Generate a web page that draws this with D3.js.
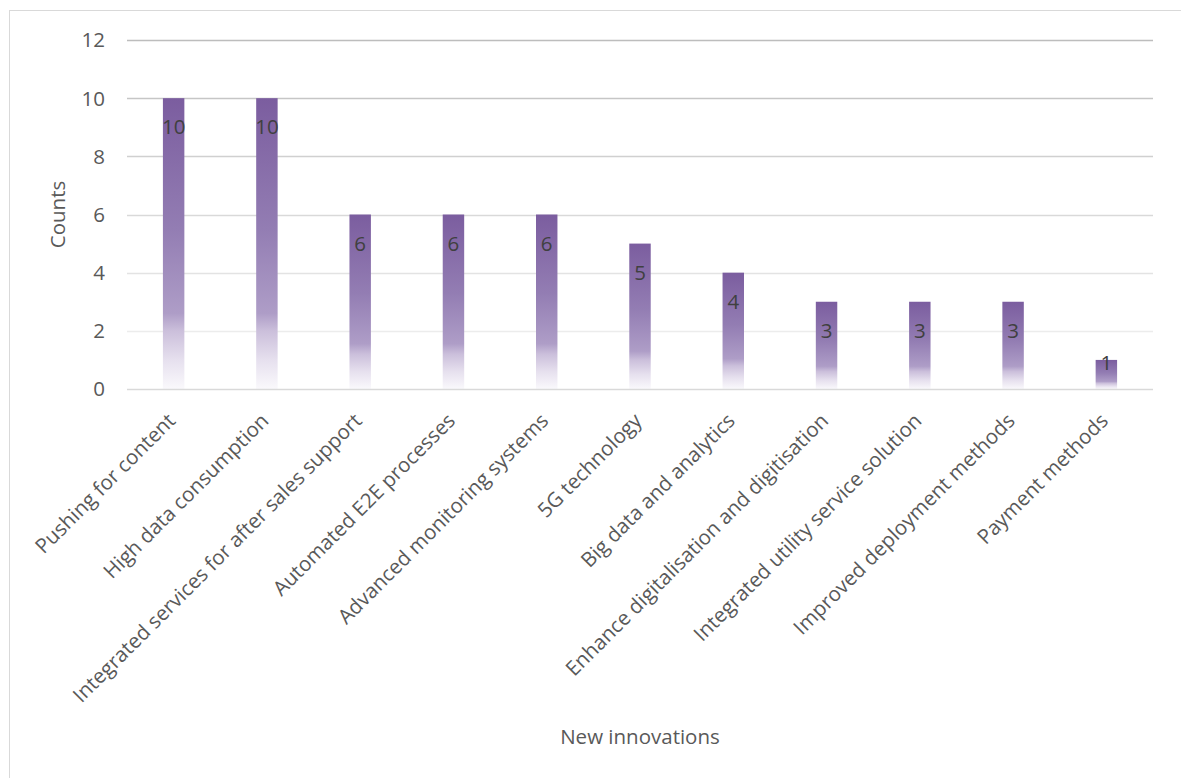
<!DOCTYPE html>
<html>
<head>
<meta charset="utf-8">
<script src="https://cdn.jsdelivr.net/npm/d3@7"></script>
<style>
    body { margin: 0; background: #fff; }
    svg { display: block; font-family: "Open Sans", sans-serif; }
</style>
</head>
<body>
<svg id="canvas" width="1181" height="778"></svg>
<script>
const innovations = [
    "Pushing for content",
    "High data consumption",
    "Integrated services for after sales support",
    "Automated E2E processes",
    "Advanced monitoring systems",
    "5G technology",
    "Big data and analytics",
    "Enhance digitalisation and digitisation",
    "Integrated utility service solution",
    "Improved deployment methods",
    "Payment methods"
];
const counts = [10, 10, 6, 6, 6, 5, 4, 3, 3, 3, 1];
const yTicks = [0, 2, 4, 6, 8, 10, 12];

const plot = {left: 127, right: 1153, top: 40, bottom: 389};
const fontSize = 20.5;
const textColor = "#595959";

const canvas = d3.select("svg");

// outer chart frame
canvas.append("rect")
    .attr("x", 9.5)
    .attr("y", 10.5)
    .attr("width", 1180)
    .attr("height", 780)
    .attr("fill", "none")
    .attr("stroke", "#d9d9d9");

const x = d3.scaleBand()
    .domain(innovations)
    .range([plot.left, plot.right])
    .paddingInner(0.77)
    .paddingOuter(0.385);

const y = d3.scaleLinear()
    .domain([0, 12])
    .range([plot.bottom, plot.top]);

// bar fill fades from purple at the top to white at the base
const grad = canvas.append("defs").append("linearGradient")
    .attr("id", "barFill")
    .attr("x1", 0).attr("y1", 0)
    .attr("x2", 0).attr("y2", 1);
[
    [0, "#7b5d9f"],
    [0.45, "#937db3"],
    [0.74, "#ae9dc7"],
    [0.8, "#cbbfdb"],
    [0.9, "#e6e0ee"],
    [1, "#faf9fc"]
].forEach(([o, c]) => grad.append("stop").attr("offset", o).attr("stop-color", c));

// gridlines get lighter towards the baseline
const gridColor = d3.scaleLinear().domain([2, 12]).range(["#ececec", "#bdbdbd"]);
canvas.append("g")
    .selectAll("line")
    .data(yTicks.filter(t => t > 0))
    .join("line")
    .attr("x1", plot.left)
    .attr("x2", plot.right)
    .attr("y1", d => Math.round(y(d)) + 0.5)
    .attr("y2", d => Math.round(y(d)) + 0.5)
    .attr("stroke", d => gridColor(d))
    .attr("stroke-width", 1.3);

// y axis labels
const yAxis = canvas.append("g")
    .attr("transform", `translate(${plot.left - 22},0)`)
    .call(d3.axisLeft(y).tickValues(yTicks).tickSize(0).tickPadding(0));
yAxis.select(".domain").remove();
yAxis.selectAll("text")
    .attr("font-family", "Open Sans")
    .attr("font-size", fontSize)
    .attr("fill", textColor)
    .attr("dy", "0.34em");

// bars
canvas.append("g")
    .selectAll("rect")
    .data(counts)
    .join("rect")
    .attr("x", (d, i) => x(innovations[i]))
    .attr("y", d => y(d))
    .attr("width", x.bandwidth())
    .attr("height", d => y(0) - y(d))
    .attr("fill", "url(#barFill)");

// baseline
canvas.append("line")
    .attr("x1", plot.left)
    .attr("x2", plot.right)
    .attr("y1", plot.bottom + 0.5)
    .attr("y2", plot.bottom + 0.5)
    .attr("stroke", "#d9d9d9")
    .attr("stroke-width", 1.3);

// value labels at the inside end of each bar
canvas.append("g")
    .selectAll("text")
    .data(counts)
    .join("text")
    .attr("x", (d, i) => x(innovations[i]) + x.bandwidth() / 2)
    .attr("y", d => {
        const h = y(0) - y(d);
        return h > 50 ? y(d) + 36 : y(d) + 10;
    })
    .attr("text-anchor", "middle")
    .attr("font-size", fontSize)
    .attr("fill", "#404040")
    .text(d => d);

// category labels, rotated
canvas.append("g")
    .selectAll("text")
    .data(innovations)
    .join("text")
    .attr("transform", d => `translate(${x(d) + x.bandwidth() / 2 + 3},422) rotate(-45)`)
    .attr("text-anchor", "end")
    .attr("font-size", fontSize)
    .attr("fill", textColor)
    .text(d => d);

// axis titles
canvas.append("text")
    .attr("x", (plot.left + plot.right) / 2)
    .attr("y", 744)
    .attr("text-anchor", "middle")
    .attr("font-size", fontSize)
    .attr("fill", textColor)
    .text("New innovations");

canvas.append("text")
    .attr("transform", `translate(65,${(plot.top + plot.bottom) / 2}) rotate(-90)`)
    .attr("text-anchor", "middle")
    .attr("font-size", fontSize)
    .attr("fill", textColor)
    .text("Counts");
</script>
</body>
</html>
